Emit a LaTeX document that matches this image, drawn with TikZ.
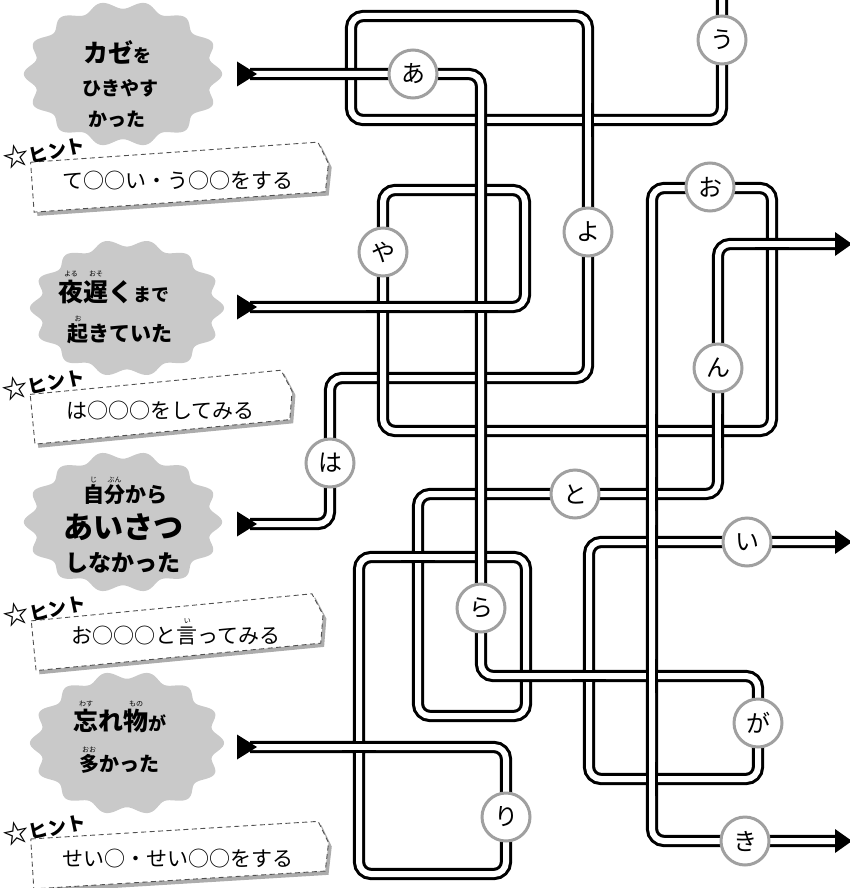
\documentclass[tikz,border=0pt]{standalone}
\usepackage{fontspec}
\setmainfont{Noto Sans CJK JP}
\usetikzlibrary{positioning}

\definecolor{mzBadge}{RGB}{201,201,201}
\definecolor{mzRing}{RGB}{160,160,160}
\definecolor{mzShade}{RGB}{172,172,172}
\definecolor{mzDash}{RGB}{80,80,80}

% small reading above a kanji
\newcommand{\furi}[2]{\leavevmode\rlap{\raisebox{0.98em}[0pt][0pt]{\makebox[1em]{\fontsize{7}{7}\selectfont\mdseries #2}}}#1}

% scalloped grey badge: cx, cy, rx, ry
\newcommand{\badge}[4]{%
  \fill[mzBadge] plot[domain=0:360, samples=241, variable=\t]
    ({#1+#3*(1+0.055*cos(14*\t))*cos(\t)}, {#2+#4*(1+0.055*cos(14*\t))*sin(\t)}) -- cycle;}

% tilted hint tag: name, cx, cy, angle, width, text
\newcommand{\hintbox}[6]{%
  \begin{scope}[shift={(#2,#3)}, rotate=#4]
    \fill[mzShade] (-#5/2+3,-21) -- (#5/2-1,-21) -- (#5/2+8,1) -- (#5/2+3,29) -- (-#5/2+3,29) -- cycle;
    \draw[draw=mzDash, fill=white, line width=0.9pt, dash pattern=on 5pt off 3.5pt]
      (-#5/2,-25) -- (#5/2-4,-25) -- (#5/2+5,-3) -- (#5/2,25) -- (-#5/2,25) -- cycle;
    \node[hinttxt] (#1) at (0,4) {#6};
    \node[hintlbl] (#1l) at (-#5/2+14,-36) {{\fontsize{26}{26}\selectfont ☆}ヒント};
  \end{scope}}

\tikzset{
  road/.style={line width=3.1pt, double=white, double distance=6pt, rounded corners=12pt},
  kana/.style={circle, draw=mzRing, line width=3pt, fill=white, minimum size=48pt,
    inner sep=0pt, font=\fontsize{24}{24}\selectfont},
  worry/.style={font=\bfseries, inner sep=0pt},
  hinttxt/.style={font=\fontsize{21}{21}\selectfont, inner sep=0pt},
  hintlbl/.style={font=\fontsize{19}{19}\selectfont\bfseries, inner sep=0pt, rotate=12},
}

\newcommand{\hpatch}[2]{\draw[road, rounded corners=0pt] (#1-17,#2) -- (#1+17,#2);}
\newcommand{\vpatch}[2]{\draw[road, rounded corners=0pt] (#1,#2-17) -- (#1,#2+17);}

\begin{document}
\begin{tikzpicture}[x=1pt, y=-1pt]
    \useasboundingbox (0,0) rectangle (849,888);

    % badges on the left
    \badge{123}{74}{94}{69}
    \badge{127}{308}{92}{65}
    \badge{123}{522}{94}{67}
    \badge{127}{743}{92}{68}

    \node[worry] (w1a) at (117,52) {\fontsize{25}{25}\selectfont カゼ\fontsize{18}{18}\selectfont を};
    \node[worry] (w1b) at (120,88) {\fontsize{19}{19}\selectfont ひきやす};
    \node[worry] (w1c) at (117,119) {\fontsize{19}{19}\selectfont かった};

    \node[worry] (w2a) at (114,292) {\fontsize{25}{25}\selectfont\furi{夜}{よる}\furi{遅}{おそ}く\fontsize{18}{18}\selectfont まで};
    \node[worry] (w2b) at (120,334) {\fontsize{21}{21}\selectfont\furi{起}{お}きていた};

    \node[worry] (w3a) at (125,495) {\fontsize{21}{21}\selectfont\furi{自}{じ}\furi{分}{ぶん}から};
    \node[worry] (w3b) at (123,527) {\fontsize{30}{30}\selectfont あいさつ};
    \node[worry] (w3c) at (123,563) {\fontsize{23}{23}\selectfont しなかった};

    \node[worry] (w4a) at (120,721) {\fontsize{25}{25}\selectfont\furi{忘}{わす}れ\furi{物}{もの}\fontsize{18}{18}\selectfont が};
    \node[worry] (w4b) at (119,764) {\fontsize{20}{20}\selectfont\furi{多}{おお}かった};

    % hint tags
    \hintbox{h1}{178}{177}{4}{292}{て○○い・う○○をする}
    \hintbox{h2}{160}{407}{5.5}{256}{は○○○をしてみる}
    \hintbox{h3}{176}{632}{5.5}{286}{お○○○と\furi{言}{い}ってみる}
    \hintbox{h4}{178}{855}{3.5}{292}{せい○・せい○○をする}

    % ends of the roads
    \coordinate (in1) at (250,74);
    \coordinate (in2) at (250,307);
    \coordinate (in3) at (250,524);
    \coordinate (in4) at (250,747);
    \coordinate (out1) at (838,542);
    \coordinate (out2) at (838,841);
    \coordinate (out4) at (838,244);

    % roads
    \draw[road] (in3) -- (330,524) -- (330,378) -- (588,378) -- (588,16) -- (351,16) -- (351,120) -- (722,120) -- (722,-10);
    \draw[road] (in2) -- (525,307) -- (525,190) -- (383,190) -- (383,431) -- (772,431) -- (772,188) -- (652,188) -- (652,841) -- (out2);
    \draw[road] (in4) -- (506,747) -- (506,874) -- (359,874) -- (359,557) -- (526,557) -- (526,716) -- (418,716) -- (418,494) -- (718,494) -- (718,244) -- (out4);
    \draw[road] (in1) -- (481,74) -- (481,676) -- (758,676) -- (758,779) -- (589,779) -- (589,542) -- (out1);

    % which road runs on top at a crossing
    \hpatch{383}{307}
    \hpatch{481}{307}
    \vpatch{652}{431}
    \vpatch{718}{431}
    \vpatch{588}{120}
    \vpatch{652}{494}
    \vpatch{652}{542}
    \hpatch{772}{244}
    \hpatch{359}{747}
    \hpatch{418}{557}
    \hpatch{589}{676}
    \vpatch{652}{676}
    \vpatch{652}{779}

    % arrow heads
    \foreach \y in {74,307,524,747}
      \fill (237,\y-12.5) -- (257,\y) -- (237,\y+12.5) -- cycle;
    \foreach \y in {244,542,841}
      \fill (835,\y-12) -- (852,\y) -- (835,\y+12) -- cycle;

    % letters on the roads
    \node[kana] (na) at (413,74) {あ};
    \node[kana] (nu) at (722,40) {う};
    \node[kana] (no) at (710,187) {お};
    \node[kana] (nyo) at (588,232) {よ};
    \node[kana] (nya) at (383,252) {や};
    \node[kana] (nn) at (718,368) {ん};
    \node[kana] (nha) at (330,463) {は};
    \node[kana] (nto) at (575,494) {と};
    \node[kana] (ni) at (747,542) {い};
    \node[kana] (nra) at (481,608) {ら};
    \node[kana] (nga) at (758,723) {が};
    \node[kana] (nri) at (506,817) {り};
    \node[kana] (nki) at (745,841) {き};
\end{tikzpicture}
\end{document}
